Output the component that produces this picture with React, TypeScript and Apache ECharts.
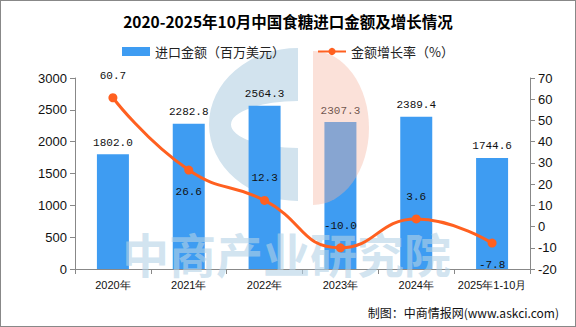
import React, { useEffect, useRef } from "react";
import * as echarts from "echarts";

const categories = ["2020年", "2021年", "2022年", "2023年", "2024年", "2025年1-10月"];
const importValues = [1802.0, 2282.8, 2564.3, 2307.3, 2389.4, 1744.6];
const growthRates = [60.7, 26.6, 12.3, -10.0, 3.6, -7.8];
const growthLabelPos = ["top", "bottom", "top", "top", "top", "bottom"];

echarts.graphic.registerShape(
  "logoC",
  echarts.graphic.extendPath("M297 47 A89 76.5 0 0 0 297 200 L297 147 A67 23.5 0 0 1 297 100 Z", {})
);
echarts.graphic.registerShape(
  "logoD",
  echarts.graphic.extendPath("M312 50 A56 77 0 0 1 312 204 Z", {})
);

export default function App() {
  const ref = useRef<HTMLDivElement>(null);
  useEffect(() => {
    document.body.style.margin = "0";
    const chart = echarts.init(ref.current!, null, { renderer: "svg" });
    const monoLabel = { fontFamily: "Liberation Mono", fontSize: 11, color: "#111" };
    const wmBlue = "rgba(180,210,230,0.6)";
    chart.setOption({
      animation: false,
      backgroundColor: "#fff",
      title: {
        text: "2020-2025年10月中国食糖进口金额及增长情况",
        left: "center",
        top: 7,
        textStyle: { fontSize: 15.5, fontWeight: "bold", color: "#000", fontFamily: "Noto Sans CJK SC" },
      },
      graphic: [
        { type: "logoC", z: 1, silent: true, x: 0, y: 0, style: { fill: "rgb(210,227,238)" } },
        { type: "logoD", z: 3, silent: true, x: 0, y: 0, style: { fill: "rgba(245,180,160,0.4)" } },
        { type: "text", z: 5, silent: true, left: 121, top: 228, style: { text: "中商产业研究院", fontSize: 47, fontWeight: "bold", fill: wmBlue, fontFamily: "Noto Sans CJK SC" } },
        { type: "text", right: 16, top: 305, style: { text: "制图：中商情报网(www.askci.com)", fontSize: 12, fill: "#111", fontFamily: "Noto Sans CJK SC" } },
      ],
      legend: {
        top: 39,
        left: "center",
        itemGap: 32,
        itemWidth: 28,
        itemHeight: 9,
        textStyle: { fontSize: 13, color: "#222", fontFamily: "Noto Sans CJK SC" },
        data: [
          { name: "进口金额（百万美元）", icon: "rect" },
          { name: "金额增长率（%）" },
        ],
      },
      grid: { left: 74, right: 45, top: 77, bottom: 57 },
      xAxis: {
        type: "category",
        data: categories,
        axisLine: { lineStyle: { color: "#888" } },
        axisTick: { show: true, alignWithLabel: false, lineStyle: { color: "#888" } },
        axisLabel: { fontSize: 11, color: "#111", margin: 10, interval: 0 },
      },
      yAxis: [
        {
          type: "value",
          min: 0,
          max: 3000,
          interval: 500,
          axisLine: { show: true, lineStyle: { color: "#888" } },
          axisTick: { show: true, lineStyle: { color: "#888" } },
          axisLabel: { fontSize: 13, color: "#111", formatter: (v: number) => String(v) },
          splitLine: { show: false },
        },
        {
          type: "value",
          min: -20,
          max: 70,
          interval: 10,
          axisLine: { show: true, lineStyle: { color: "#888" } },
          axisTick: { show: true, lineStyle: { color: "#888" } },
          axisLabel: { fontSize: 13, color: "#111", formatter: (v: number) => String(v) },
          splitLine: { show: false },
        },
      ],
      series: [
        {
          name: "进口金额（百万美元）",
          type: "bar",
          z: 2,
          data: importValues,
          barWidth: 32,
          itemStyle: { color: "#3E9CF2" },
          label: { show: true, position: "top", distance: 6, formatter: (p: any) => p.value.toFixed(1), ...monoLabel },
        },
        {
          name: "金额增长率（%）",
          type: "line",
          z: 10,
          yAxisIndex: 1,
          smooth: true,
          symbol: "circle",
          symbolSize: 9,
          lineStyle: { color: "#FF6020", width: 3 },
          itemStyle: { color: "#FF6020" },
          data: growthRates.map((v, i) => ({
            value: v,
            label: { position: growthLabelPos[i] },
          })),
          label: { show: true, distance: 12, formatter: (p: any) => Number(p.value).toFixed(1), ...monoLabel },
        },
      ],
    });
    return () => chart.dispose();
  }, []);
  return (
    <div
      ref={ref}
      style={{ width: 576, height: 327, boxSizing: "border-box", border: "1px solid #888" }}
    />
  );
}
